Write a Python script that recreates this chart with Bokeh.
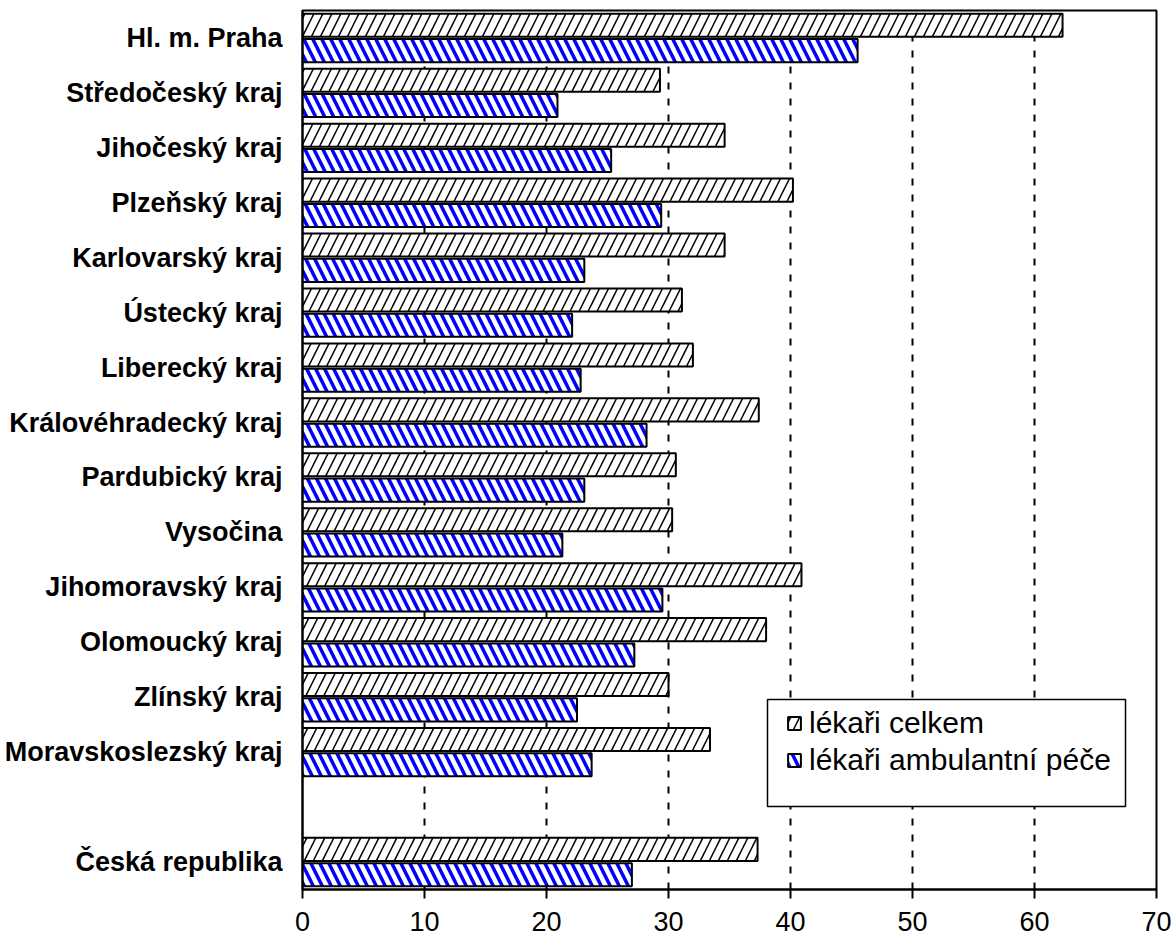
from bokeh.plotting import figure
from bokeh.models import (FactorRange, Range1d, FixedTicker, Legend, LegendItem,
                          ColumnDataSource, BoxAnnotation)
from bokeh.transform import dodge
from bokeh.embed import file_html
from bokeh.resources import INLINE

regions = ["Hl. m. Praha", "Středočeský kraj", "Jihočeský kraj", "Plzeňský kraj",
           "Karlovarský kraj", "Ústecký kraj", "Liberecký kraj", "Královéhradecký kraj",
           "Pardubický kraj", "Vysočina", "Jihomoravský kraj", "Olomoucký kraj",
           "Zlínský kraj", "Moravskoslezský kraj", "Česká republika"]
lekari_celkem = [62.3, 29.3, 34.6, 40.2, 34.6, 31.1, 32.0, 37.4, 30.6, 30.3,
                 40.9, 38.0, 30.0, 33.4, 37.3]
lekari_ambulantni = [45.5, 20.9, 25.3, 29.4, 23.1, 22.1, 22.8, 28.2, 23.1, 21.3,
                     29.5, 27.2, 22.5, 23.7, 27.0]
series_names = ["lékaři celkem", "lékaři ambulantní péče"]
x_ticks = [0, 10, 20, 30, 40, 50, 60, 70]

# empty spacer slot between the regions and the country total
factors = regions[:-1] + [" "] + regions[-1:]

src = ColumnDataSource(dict(region=regions, celkem=lekari_celkem, ambul=lekari_ambulantni))

FONT = "Liberation Sans"

p = figure(width=1173, height=938, output_backend="svg", toolbar_location=None,
           y_range=FactorRange(factors=factors[::-1]), x_range=Range1d(0, 70),
           min_border_left=302, min_border_right=17, min_border_top=10, min_border_bottom=49,
           background_fill_color="white", border_fill_color="white")

r1 = p.hbar(y=dodge("region", 0.23, range=p.y_range), left=0, right="celkem", height=0.42,
            source=src, fill_color="white", line_color="black", line_width=2,
            hatch_pattern="/", hatch_color="black", hatch_scale=18, hatch_weight=1.5)
r2 = p.hbar(y=dodge("region", -0.23, range=p.y_range), left=0, right="ambul", height=0.42,
            source=src, fill_color="white", line_color="black", line_width=2,
            hatch_pattern="\\", hatch_color="blue", hatch_scale=18, hatch_weight=3.5)

# axes
p.xaxis.ticker = FixedTicker(ticks=x_ticks)
p.xaxis.axis_line_width = 2
p.xaxis.axis_line_color = "black"
p.xaxis.major_tick_line_width = 2
p.xaxis.major_tick_line_color = "black"
p.xaxis.major_tick_out = 9
p.xaxis.major_tick_in = 0
p.xaxis.minor_tick_line_color = None
p.xaxis.major_label_text_font = FONT
p.xaxis.major_label_text_font_size = "27px"
p.xaxis.major_label_text_color = "black"
p.xaxis.major_label_standoff = 13

p.yaxis.axis_line_width = 2
p.yaxis.axis_line_color = "black"
p.yaxis.major_tick_line_color = None
p.yaxis.major_tick_out = 0
p.yaxis.major_tick_in = 0
p.yaxis.minor_tick_line_color = None
p.yaxis.major_label_text_font = FONT
p.yaxis.major_label_text_font_style = "bold"
p.yaxis.major_label_text_font_size = "27px"
p.yaxis.major_label_text_color = "black"
p.yaxis.major_label_standoff = 20

p.xgrid.grid_line_color = "black"
p.xgrid.grid_line_dash = "7 9"
p.xgrid.grid_line_width = 2
p.ygrid.grid_line_color = None

p.outline_line_color = "black"
p.outline_line_width = 2
p.outline_line_alpha = 1

# legend frame (layout element, canvas pixels)
frame_box = BoxAnnotation(left=767, right=1125, top=699, bottom=806,
                          left_units="canvas", right_units="canvas",
                          top_units="canvas", bottom_units="canvas",
                          fill_color="white", fill_alpha=1,
                          line_color="black", line_width=1.5, line_alpha=1)
p.add_layout(frame_box)

legend = Legend(items=[LegendItem(label=series_names[0], renderers=[r1]),
                       LegendItem(label=series_names[1], renderers=[r2])],
                location=(484, 112))
legend.label_text_font = FONT
legend.label_text_font_size = "30px"
legend.label_text_color = "black"
legend.glyph_width = 16
legend.glyph_height = 16
legend.label_height = 30
legend.label_standoff = 7
legend.spacing = 3
legend.padding = 10
legend.margin = 0
legend.border_line_color = None
legend.background_fill_alpha = 0
p.add_layout(legend)

open("out.html", "w").write(file_html(p, INLINE))
